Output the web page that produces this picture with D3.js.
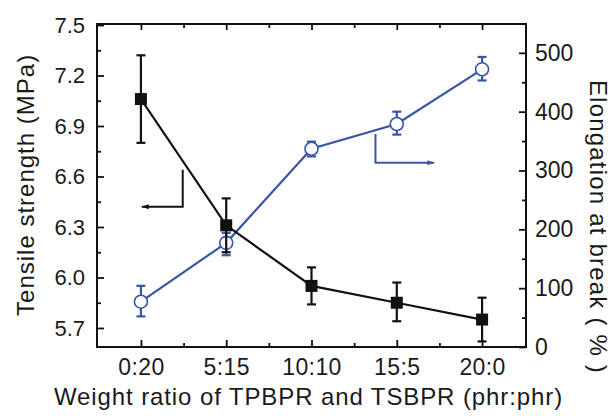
<!DOCTYPE html>
<html>
<head>
<meta charset="utf-8">
<script src="https://cdn.jsdelivr.net/npm/d3@7"></script>
<style>
  body { margin: 0; background: #fff; }
  svg { display: block; font-family: "Liberation Sans", Arial, sans-serif; }
  .axis text { fill: #1a1a1a; }
  .axis line, .axis path { stroke: #111; }
</style>
</head>
<body>
<div id="chart"></div>
<script>
// categories (weight ratio TPBPR:TSBPR)
const categories = ['0:20', '5:15', '10:10', '15:5', '20:0'];

// tensile strength (MPa), left axis
const tensile = [7.06, 6.31, 5.95, 5.85, 5.75];
const tensileLow = [6.80, 6.15, 5.84, 5.74, 5.62];
const tensileHigh = [7.32, 6.47, 6.06, 5.97, 5.88];

// elongation at break (%), right axis
const elong = [77, 177, 337, 379, 472];
const elongLow = [52, 156, 324, 361, 453];
const elongHigh = [104, 194, 349, 400, 493];

const leftTicks = [5.7, 6.0, 6.3, 6.6, 6.9, 7.2, 7.5];
const rightTicks = [0, 100, 200, 300, 400, 500];

const width = 612;
const height = 416;
const margin = { top: 24, right: 86, bottom: 69, left: 97 };
const blue = '#3a54a6';

const svg = d3.select('#chart').append('svg')
  .attr('width', width)
  .attr('height', height);

const innerW = width - margin.left - margin.right;
const innerH = height - margin.top - margin.bottom;

const g = svg.append('g')
  .attr('transform', `translate(${margin.left},${margin.top})`);

// scales
const x = d3.scaleLinear().domain([-0.515, 4.515]).range([0, innerW]);
const yL = d3.scaleLinear().domain([5.587, 7.506]).range([innerH, 0]);
const yR = d3.scaleLinear().domain([0, 549]).range([innerH, 0]);

// frame
g.append('rect')
  .attr('width', innerW)
  .attr('height', innerH)
  .attr('fill', 'none')
  .attr('stroke', '#111')
  .attr('stroke-width', 2);

// axes (ticks point inward)
const xMinor = d3.range(0, categories.length - 1).map((i) => i + 0.5);
const leftMinor = leftTicks.slice(0, -1).map((v) => v + 0.15);
const rightMinor = rightTicks.map((v) => v + 50).filter((v) => v < 549);

function styleAxis(sel) {
  sel.select('.domain').remove();
  sel.selectAll('line').attr('stroke-width', 1.8);
}

g.append('g')
  .attr('class', 'axis')
  .attr('transform', `translate(0,${innerH})`)
  .call(d3.axisBottom(x).tickValues(d3.range(categories.length))
    .tickFormat((i) => categories[i]).tickSize(-7).tickPadding(12))
  .call(styleAxis)
  .selectAll('text').attr('font-size', 23).attr('letter-spacing', 0.4);

g.append('g')
  .attr('class', 'axis')
  .attr('transform', `translate(0,${innerH})`)
  .call(d3.axisBottom(x).tickValues(xMinor).tickFormat('').tickSize(-4))
  .call(styleAxis);

g.append('g')
  .attr('class', 'axis')
  .call(d3.axisTop(x).tickValues(d3.range(categories.length)).tickFormat('').tickSize(-6))
  .call(styleAxis);

g.append('g')
  .attr('class', 'axis')
  .call(d3.axisTop(x).tickValues(xMinor).tickFormat('').tickSize(-4))
  .call(styleAxis);

g.append('g')
  .attr('class', 'axis')
  .call(d3.axisLeft(yL).tickValues(leftTicks).tickFormat(d3.format('.1f')).tickSize(-7).tickPadding(12))
  .call(styleAxis)
  .selectAll('text').attr('font-size', 22);

g.append('g')
  .attr('class', 'axis')
  .call(d3.axisLeft(yL).tickValues(leftMinor).tickFormat('').tickSize(-4))
  .call(styleAxis);

g.append('g')
  .attr('class', 'axis')
  .attr('transform', `translate(${innerW},0)`)
  .call(d3.axisRight(yR).tickValues(rightTicks).tickSize(-7).tickPadding(9))
  .call(styleAxis)
  .selectAll('text').attr('font-size', 23);

g.append('g')
  .attr('class', 'axis')
  .attr('transform', `translate(${innerW},0)`)
  .call(d3.axisRight(yR).tickValues(rightMinor).tickFormat('').tickSize(-4))
  .call(styleAxis);

// axis titles
svg.append('text')
  .attr('transform', `translate(34,${margin.top + yL(6.55)}) rotate(-90)`)
  .attr('text-anchor', 'middle')
  .attr('font-size', 24)
  .attr('letter-spacing', 1)
  .attr('fill', '#1a1a1a')
  .text('Tensile strength (MPa)');

svg.append('text')
  .attr('transform', `translate(590,${margin.top + yR(204)}) rotate(90)`)
  .attr('text-anchor', 'middle')
  .attr('font-size', 24)
  .attr('letter-spacing', 1.2)
  .attr('fill', '#1a1a1a')
  .text('Elongation at break ( % )');

svg.append('text')
  .attr('x', margin.left + x(2) - 3)
  .attr('y', 405)
  .attr('text-anchor', 'middle')
  .attr('font-size', 24)
  .attr('letter-spacing', 0.9)
  .attr('fill', '#1a1a1a')
  .text('Weight ratio of TPBPR and TSBPR (phr:phr)');

// series helper
function drawSeries(vals, lows, highs, y, color, marker) {
  const s = g.append('g');
  s.append('path')
    .datum(vals)
    .attr('fill', 'none')
    .attr('stroke', color)
    .attr('stroke-width', 2.2)
    .attr('d', d3.line().x((d, i) => x(i)).y((d) => y(d)));

  const err = s.selectAll('.err').data(vals).join('g').attr('class', 'err');
  err.append('line')
    .attr('x1', (d, i) => x(i)).attr('x2', (d, i) => x(i))
    .attr('y1', (d, i) => y(lows[i])).attr('y2', (d, i) => y(highs[i]))
    .attr('stroke', color).attr('stroke-width', 2.2);
  [lows, highs].forEach((arr) => {
    err.append('line')
      .attr('x1', (d, i) => x(i) - 4.5).attr('x2', (d, i) => x(i) + 4.5)
      .attr('y1', (d, i) => y(arr[i])).attr('y2', (d, i) => y(arr[i]))
      .attr('stroke', color).attr('stroke-width', 2.2);
  });

  if (marker === 'square') {
    s.selectAll('.pt').data(vals).join('rect')
      .attr('x', (d, i) => x(i) - 6).attr('y', (d) => y(d) - 6)
      .attr('width', 12).attr('height', 12)
      .attr('fill', color);
  } else {
    s.selectAll('.pt').data(vals).join('circle')
      .attr('cx', (d, i) => x(i)).attr('cy', (d) => y(d))
      .attr('r', 6.5)
      .attr('fill', '#fff')
      .attr('stroke', color).attr('stroke-width', 1.6);
  }
}

drawSeries(elong, elongLow, elongHigh, yR, blue, 'circle');
drawSeries(tensile, tensileLow, tensileHigh, yL, '#111', 'square');

// arrows telling which axis belongs to which curve
function arrow(pts, color, dir) {
  const a = g.append('g');
  a.append('path')
    .attr('d', d3.line()(pts))
    .attr('fill', 'none')
    .attr('stroke', color)
    .attr('stroke-width', 2);
  const [ex, ey] = pts[pts.length - 1];
  a.append('path')
    .attr('d', `M${ex},${ey} l${-dir * 7},-2.5 l0,5 Z`)
    .attr('fill', color);
}

arrow([[x(0.49), yL(6.64)], [x(0.49), yL(6.42)], [x(0.01), yL(6.42)]], '#111', -1);
arrow([[x(2.75), yR(362)], [x(2.75), yR(313)], [x(3.44), yR(313)]], blue, 1);
</script>
</body>
</html>
